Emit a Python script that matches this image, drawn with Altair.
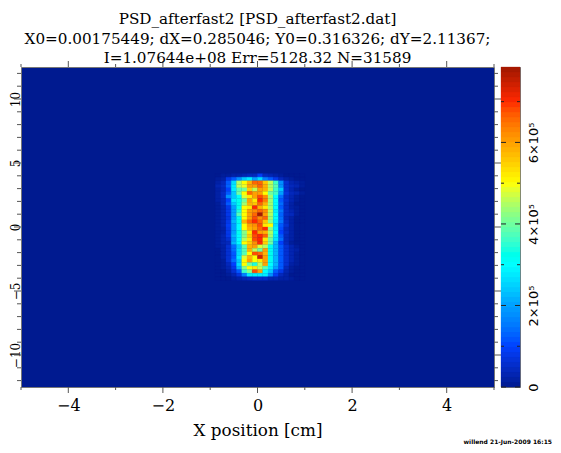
import altair as alt
import pandas as pd

# ---- data (units of 1e4 counts), rows top to bottom, columns left to right
N_BINS = 90
FIRST_COL = 37
FIRST_ROW = 30
cells = [
 [0,1,1,2,2,3,4,4,9,4,3,2,1,0,0,0,0],
 [1,2,8,12,18,24,28,20,26,16,12,8,4,2,1,0,0],
 [2,4,12,26,45,50,58,66,66,56,46,36,18,6,3,2,1],
 [3,5,13,28,46,49,60,60,66,58,45,38,18,6,4,3,1],
 [2,4,10,28,38,40,55,46,60,58,46,36,24,6,3,1,0],
 [2,5,12,24,40,50,66,60,60,50,40,36,20,7,4,3,1],
 [2,5,18,24,31,48,52,60,68,62,44,30,14,5,3,1,0],
 [2,4,10,28,32,40,60,52,70,64,44,30,12,6,3,1,0],
 [1,4,12,24,32,44,58,56,66,58,44,30,14,5,2,0,0],
 [1,3,8,20,32,50,52,70,58,52,44,30,12,5,2,1,0],
 [1,3,8,20,34,50,60,62,66,62,46,28,15,5,3,1,0],
 [1,3,8,20,38,50,60,66,78,60,45,30,13,5,4,1,0],
 [1,3,7,20,32,50,60,68,62,66,44,30,14,4,2,0,0],
 [1,3,8,22,32,58,66,70,66,56,42,28,15,5,2,0,0],
 [1,3,9,20,30,50,60,62,68,52,50,26,12,6,2,0,0],
 [1,2,8,20,30,50,58,60,66,70,42,28,11,4,2,0,0],
 [1,2,8,20,32,42,52,70,60,58,45,30,10,5,2,0,0],
 [1,3,8,22,30,42,55,68,70,66,44,28,12,4,2,0,0],
 [1,3,6,20,30,45,52,68,70,52,40,27,14,4,2,0,0],
 [1,3,4,22,30,50,55,62,70,55,40,22,10,4,1,0,0],
 [1,2,6,14,24,38,58,60,48,45,32,22,12,6,3,1,0],
 [0,2,6,14,26,38,58,46,40,60,32,22,12,6,3,2,0],
 [0,2,6,12,26,38,50,68,66,58,32,22,12,6,3,1,0],
 [0,2,6,12,28,48,58,50,74,60,32,22,12,6,3,1,0],
 [0,1,6,14,24,50,60,50,52,60,32,22,12,6,3,1,0],
 [0,1,4,10,26,50,40,34,46,60,30,22,12,6,2,1,0],
 [0,1,3,8,22,42,50,52,46,38,28,20,12,4,1,0,0],
 [0,0,2,6,12,36,42,68,60,30,24,12,8,3,1,0,0],
 [0,0,1,3,7,16,28,28,28,28,18,9,4,2,0,0,0],
 [0,0,0,1,2,3,4,5,5,5,3,3,2,2,1,0,0],
]
x_major = [-4, -2, 0, 2, 4]
x_minor = [-5, -3, -1, 1, 3, 5]
y_major = [-10, -5, 0, 5, 10]
y_minor = [-12,-11,-9,-8,-7,-6,-4,-3,-2,-1,1,2,3,4,6,7,8,9,11,12]
bar_major = [0, 200000, 400000, 600000]
bar_minor = [100000, 300000, 500000, 700000]
VMAX = 785000
stop_values = [0, 100000, 200000, 300000, 400000, 500000, 600000, 700000, 785000]
stop_colors = ["#001a90", "#0040ff", "#00a0ff", "#00ffff", "#70ffa0",
               "#ffff00", "#ffa000", "#ff2800", "#a01800"]
title_lines = ["PSD_afterfast2 [PSD_afterfast2.dat]",
               "X0=0.00175449; dX=0.285046; Y0=0.316326; dY=2.11367;",
               "I=1.07644e+08 Err=5128.32 N=31589"]
stamp = "willend 21-Jun-2009 16:15"

SERIF = "DejaVu Serif"
BG = stop_colors[0]
W, H = 473, 320
TICK = "#555555"

rows = []
dx = 10 / N_BINS
dy = 25 / N_BINS
for j, row in enumerate(cells):
    for i, v in enumerate(row):
        c = FIRST_COL + i
        r = FIRST_ROW + j
        rows.append({"x0": -5 + c * dx, "x1": -5 + (c + 1) * dx,
                     "y1": 12.5 - r * dy, "y0": 12.5 - (r + 1) * dy, "v": v * 1e4})
df = pd.DataFrame(rows)

color_scale = alt.Scale(domain=stop_values, range=stop_colors, clamp=True)
xs = alt.Scale(domain=[-5, 5], nice=False, zero=False)
ys = alt.Scale(domain=[-12.5, 12.5], nice=False, zero=False)

heat = alt.Chart(df).mark_rect(strokeWidth=0.3).encode(
    x=alt.X("x0:Q", scale=xs, title="X position [cm]",
            axis=alt.Axis(values=x_major, grid=False, domain=False, ticks=False, format="d",
                          labelFont=SERIF, labelFontSize=16, labelPadding=10, labelColor="#000",
                          titleFont=SERIF, titleFontSize=16.8, titleFontWeight="normal",
                          titlePadding=9, titleColor="#000")),
    x2="x1:Q",
    y=alt.Y("y0:Q", scale=ys, title=None,
            axis=alt.Axis(values=y_major, grid=False, domain=False, ticks=False, format="d",
                          labelFont=SERIF, labelFontSize=12, labelAngle=270, labelAlign="center",
                          labelBaseline="bottom", labelPadding=-1, labelColor="#000")),
    y2="y1:Q",
    color=alt.Color("v:Q", scale=color_scale, legend=None),
    stroke=alt.Stroke("v:Q", scale=color_scale, legend=None),
)

def xticks(vals, n):
    d = pd.DataFrame({"t": vals})
    base = alt.Chart(d).mark_rule(color=TICK, strokeWidth=1, clip=False)
    return [base.encode(x=alt.X("t:Q", scale=xs), y=alt.value(-n), y2=alt.value(0)),
            base.encode(x=alt.X("t:Q", scale=xs), y=alt.value(H), y2=alt.value(H + n))]

def yticks(vals, n):
    d = pd.DataFrame({"t": vals})
    base = alt.Chart(d).mark_rule(color=TICK, strokeWidth=1, clip=False)
    return [base.encode(y=alt.Y("t:Q", scale=ys), x=alt.value(-n), x2=alt.value(0)),
            base.encode(y=alt.Y("t:Q", scale=ys), x=alt.value(W), x2=alt.value(W + n))]

left = alt.layer(heat, *xticks(x_major, 6), *xticks(x_minor, 3),
                 *yticks(y_major, 7), *yticks(y_minor, 4)).properties(
    width=W, height=H,
    title=alt.TitleParams(text=title_lines, font=SERIF, fontSize=15.2, fontWeight="normal",
                          lineHeight=19.5, anchor="middle", color="#000", offset=-6),
)

# colour bar
LEVELS = 64
bar_df = pd.DataFrame({
    "lo": [VMAX * k / LEVELS for k in range(LEVELS)],
    "hi": [VMAX * (k + 1) / LEVELS for k in range(LEVELS)],
})
bar_df["mid"] = (bar_df.lo + bar_df.hi) / 2
bs = alt.Scale(domain=[0, VMAX], nice=False, zero=False)
bar = alt.Chart(bar_df).mark_rect(strokeWidth=0.3).encode(
    x=alt.value(0), x2=alt.value(19),
    y=alt.Y("lo:Q", scale=bs, title=None,
            axis=alt.Axis(orient="right", values=bar_major, grid=False, domain=False, ticks=False,
                          labelExpr="datum.value == 0 ? '0' : (datum.value / 100000) + '×10⁵'",
                          labelFont="DejaVu Sans", labelFontSize=13, labelAngle=270,
                          labelAlign="center", labelBaseline="top", labelPadding=7,
                          labelColor="#000")),
    y2="hi:Q",
    color=alt.Color("mid:Q", scale=color_scale, legend=None),
    stroke=alt.Stroke("mid:Q", scale=color_scale, legend=None),
)

def bticks(vals, n):
    d = pd.DataFrame({"t": vals})
    base = alt.Chart(d).mark_rule(color="#222222", strokeWidth=1, clip=False)
    return [base.encode(y=alt.Y("t:Q", scale=bs), x=alt.value(0), x2=alt.value(n)),
            base.encode(y=alt.Y("t:Q", scale=bs), x=alt.value(19 - n), x2=alt.value(19))]

stamp_mark = alt.Chart(pd.DataFrame({"s": [stamp]})).mark_text(
    font="DejaVu Sans", fontSize=6, fontWeight="bold", align="right", baseline="middle", color="#000"
).encode(text="s:N", x=alt.value(51), y=alt.value(375))

right = alt.layer(bar, *bticks(bar_major, 5), *bticks(bar_minor, 3), stamp_mark).properties(
    width=19, height=H)

chart = alt.hconcat(left, right, spacing=7, bounds="flush").resolve_scale(
    color="shared", y="independent", x="independent"
).properties(padding={"left": 0, "right": 0, "top": 3, "bottom": 0}, background="white").configure_view(fill=BG, stroke="#777777", strokeWidth=1)

chart.save("out.html", embed_options={"renderer": "svg", "actions": False})
